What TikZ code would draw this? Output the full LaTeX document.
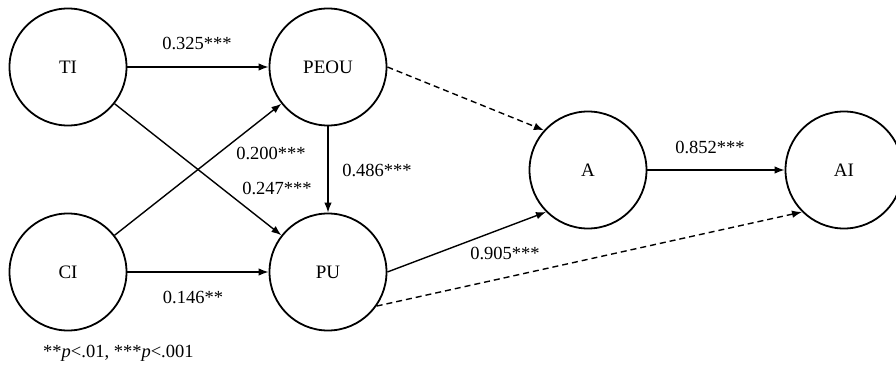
\documentclass[tikz,border=0pt]{standalone}
\usepackage{fontspec}
\setmainfont{Liberation Serif}
\usetikzlibrary{arrows.meta}
\begin{document}
\begin{tikzpicture}[x=1pt,y=-1pt,
  construct/.style={circle,draw,line width=1.8pt,minimum size=117pt,inner sep=0pt,
    font=\fontsize{19}{21}\selectfont},
  effect/.style={line width=1.4pt,-{Latex[length=10pt,width=7.5pt]}},
  nonsig/.style={effect,dash pattern=on 6pt off 4pt},
  coef/.style={font=\fontsize{18.5}{21}\selectfont,inner sep=0pt}]
\useasboundingbox (0,0) rectangle (896,366);

% constructs
\node[construct] (TI)   at (68,67)   {TI};
\node[construct] (PEOU) at (328,67)  {PEOU};
\node[construct] (CI)   at (68,272)  {CI};
\node[construct] (PU)   at (328,272) {PU};
\node[construct] (A)    at (588,170) {A};
\node[construct] (AI)   at (844,170) {AI};

% structural paths
\draw[effect] (TI) -- (PEOU);
\draw[effect] (TI) -- (PU);
\draw[effect] (CI) -- (PEOU);
\draw[effect] (CI) -- (PU);
\draw[effect] (PEOU) -- (PU);
\draw[effect] (PU.east) -- (A.225);
\draw[effect] (A) -- (AI);
\draw[nonsig] (PEOU.east) -- (A.138);
\draw[nonsig] (PU.-35) -- (AI.225);

% path coefficients
\node[coef] (c1) at (197,43)  {0.325***};
\node[coef] (c2) at (271,153) {0.200***};
\node[coef] (c3) at (277,188) {0.247***};
\node[coef] (c4) at (377,170) {0.486***};
\node[coef] (c5) at (193,297) {0.146**};
\node[coef] (c6) at (505,253) {0.905***};
\node[coef] (c7) at (710,147) {0.852***};

% significance note
\node[coef,anchor=west] (note) at (43,353) {**\textit{p}<.01, ***\textit{p}<.001};
\end{tikzpicture}
\end{document}
